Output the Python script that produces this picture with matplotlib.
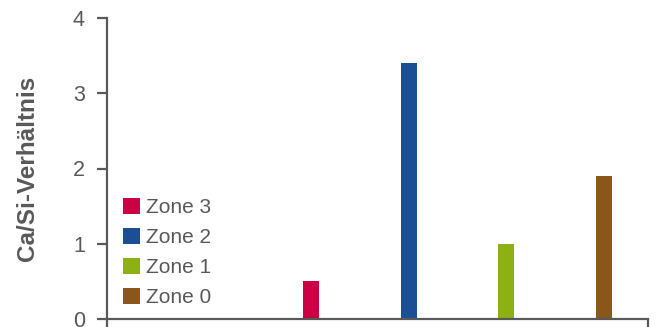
import matplotlib.pyplot as plt
import numpy as np

plt.rcParams['font.family'] = ['Liberation Sans', 'DejaVu Sans']

# Data
zones = ['Zone 3', 'Zone 2', 'Zone 1', 'Zone 0']
ratios = [0.5, 3.4, 1.0, 1.9]
colors = ['#cc0044', '#1b4f93', '#8db014', '#8b5619']

grey = '#595959'
x = np.arange(len(zones))

fig = plt.figure(figsize=(6.57, 3.27), dpi=100)
ax = fig.add_axes([107 / 657, 1 - 319 / 327, 541 / 657, 301 / 327])

for xi, val, col, name in zip(x, ratios, colors, zones):
    ax.bar(xi, val, width=0.164, color=col, label=name)

ax.set_xlim(-2.088, 3.45)
ax.set_ylim(0, 4)
ax.set_yticks([0, 1, 2, 3, 4])
ax.set_xticks([-2.088, 3.45])
ax.set_xticklabels([])

for side in ['top', 'right']:
    ax.spines[side].set_visible(False)
for side in ['left', 'bottom']:
    ax.spines[side].set_color(grey)
    ax.spines[side].set_linewidth(1.6)
ax.spines['bottom'].set_zorder(5)

ax.tick_params(axis='y', length=7, width=1.6, color=grey, labelcolor=grey,
               labelsize=15.5, pad=9)
ax.tick_params(axis='x', length=8, width=1.6, color=grey, direction='out')

ax.set_ylabel('Ca/Si-Verhältnis', fontsize=17.5, fontweight='bold', color=grey)
ax.yaxis.set_label_coords(-0.125, 0.5)

leg = ax.legend(loc='lower left', bbox_to_anchor=(123 / 657, 1 - 307 / 327),
                bbox_transform=fig.transFigure, frameon=False, fontsize=15,
                handlelength=0.8, handleheight=0.8, handletextpad=0.3,
                labelspacing=0.52, borderpad=0, borderaxespad=0)
for t in leg.get_texts():
    t.set_color(grey)

fig.savefig('out.png', dpi=100)
